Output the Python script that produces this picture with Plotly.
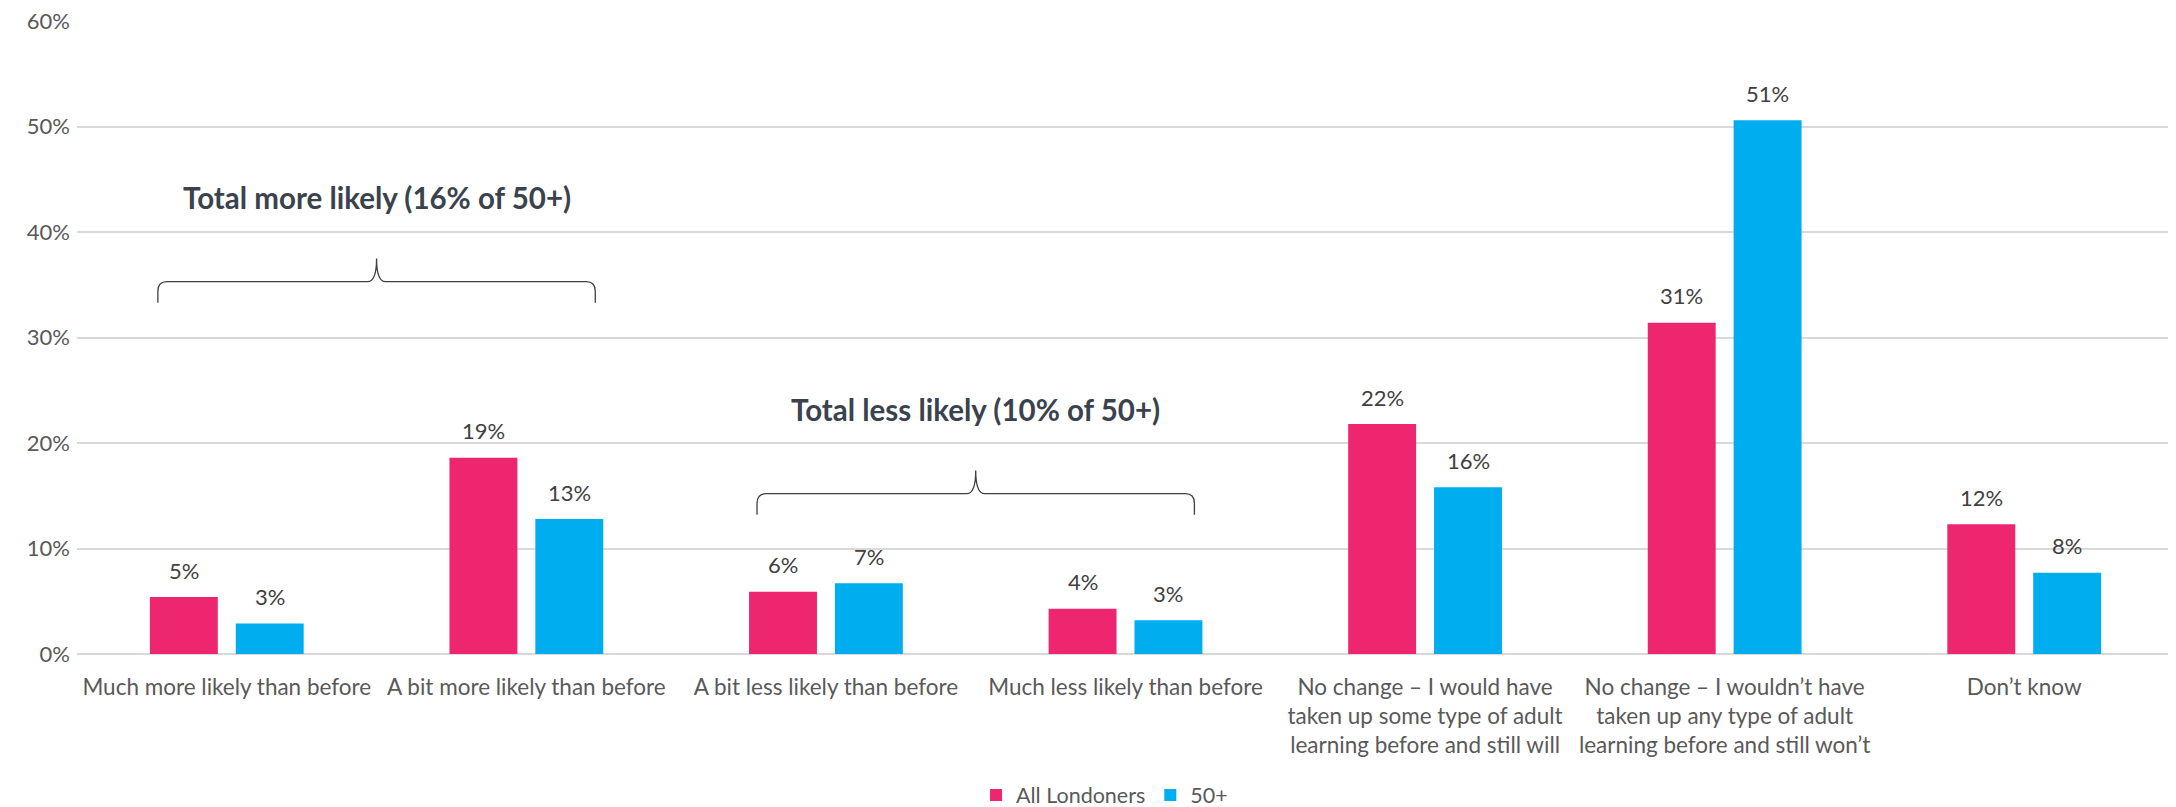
import plotly.graph_objects as go

categories = [
    "Much more likely than before",
    "A bit more likely than before",
    "A bit less likely than before",
    "Much less likely than before",
    "No change – I would have<br>taken up some type of adult<br>learning before and still will",
    "No change – I wouldn’t have<br>taken up any type of adult<br>learning before and still won’t",
    "Don’t know",
]
all_londoners = [5.4, 18.6, 5.9, 4.3, 21.8, 31.4, 12.3]
over_50 = [2.9, 12.8, 6.7, 3.2, 15.8, 50.6, 7.7]
series_names = ["All Londoners", "50+"]
series_colors = ["#EE2670", "#00AEEF"]
y_ticks = [0, 10, 20, 30, 40, 50, 60]

bracket_groups = [
    {"label": "Total more likely (16% of 50+)", "from": 0, "to": 1, "level": 35.3},
    {"label": "Total less likely (10% of 50+)", "from": 2, "to": 3, "level": 15.2},
]

FONT = "Lato"
BARGAP = 0.4267
GROUPGAP = 0.209

x = list(range(len(categories)))
fig = go.Figure()
for name, vals, col in zip(series_names, [all_londoners, over_50], series_colors):
    fig.add_trace(go.Bar(
        x=x, y=vals, name=name,
        marker=dict(color=col, line=dict(color=col, width=0)),
        hoverinfo="skip",
    ))

# data labels
slot = (1 - BARGAP) / 2
for k, vals in enumerate([all_londoners, over_50]):
    off = (k - 0.5) * slot
    for i, v in enumerate(vals):
        fig.add_annotation(
            x=i + off, y=v, xref="x", yref="y", text=f"{v:.0f}%",
            showarrow=False, yshift=27, yanchor="middle",
            font=dict(family=FONT, size=22, color="#404040"),
        )

# brace annotations
ext = 0.23
for g in bracket_groups:
    x0 = g["from"] - ext
    x1 = g["to"] + ext
    xm = (x0 + x1) / 2
    yh = g["level"]
    ytop = yh + 2.2
    yend = yh - 2.0
    dx = 0.03
    dy = 0.9
    path = (
        f"M {x0},{yend} L {x0},{yh - dy} Q {x0},{yh} {x0 + dx},{yh} "
        f"L {xm - dx},{yh} Q {xm},{yh} {xm},{ytop} "
        f"Q {xm},{yh} {xm + dx},{yh} L {x1 - dx},{yh} "
        f"Q {x1},{yh} {x1},{yh - dy} L {x1},{yend}"
    )
    fig.add_shape(type="path", path=path, xref="x", yref="y",
                  line=dict(color="#404040", width=1.3))
    fig.add_annotation(
        x=xm, y=yh + 8.0, xref="x", yref="y", text=f"<b>{g['label']}</b>",
        showarrow=False, yanchor="middle",
        font=dict(family=FONT, size=29.5, color="#3A434D"),
    )

fig.update_layout(
    width=2168, height=799,
    margin=dict(l=69, r=2, t=13, b=153, autoexpand=False),
    paper_bgcolor="white", plot_bgcolor="white",
    barmode="group", bargap=BARGAP, bargroupgap=GROUPGAP,
    font=dict(family=FONT, size=20, color="#595959"),
    showlegend=True,
    legend=dict(orientation="h", x=0.49, xanchor="center", y=-0.2227, yanchor="middle",
                font=dict(family=FONT, size=21.5, color="#595959"),
                itemwidth=30, traceorder="normal"),
    xaxis=dict(
        range=[-0.5, len(categories) - 0.5],
        tickmode="array", tickvals=x, ticktext=categories,
        showgrid=False, zeroline=False, showline=False, ticks="",
        tickfont=dict(family=FONT, size=22.5, color="#595959"),
        ticklabelstandoff=17, automargin=False,
    ),
    yaxis=dict(
        range=[0, 60.02], tickmode="array", tickvals=y_ticks,
        ticktext=[f"{t}%" for t in y_ticks],
        showgrid=True, gridcolor="#D9D9D9", gridwidth=2,
        zeroline=True, zerolinecolor="#D9D9D9", zerolinewidth=2,
        showline=False, ticks="",
        tickfont=dict(family=FONT, size=22, color="#595959"),
        ticklabelstandoff=6, automargin=False, ticklabeloverflow="allow",
    ),
)

fig.write_html("out.html")
